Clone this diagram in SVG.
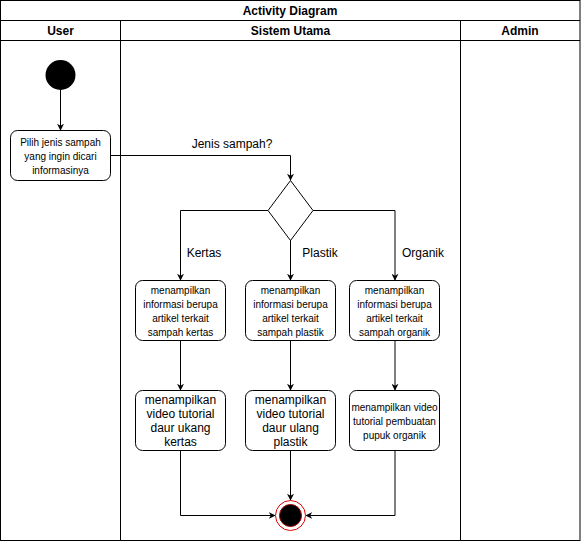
<svg xmlns="http://www.w3.org/2000/svg" width="581" height="541" viewBox="0 0 581 541">
<defs>
<style>
text{font-family:"Liberation Sans",Arial,sans-serif;fill:#000;text-anchor:middle}
.h{font-size:12px;font-weight:bold}
.s{font-size:10px}
.m{font-size:12px}
.box{fill:#fff;stroke:#000;stroke-width:1}
.ln{fill:none;stroke:#000;stroke-width:1}
.c{fill:none;stroke:#000;stroke-width:1;marker-end:url(#ar)}
</style>
<marker id="ar" viewBox="0 0 10 10" refX="9" refY="5" markerWidth="7" markerHeight="7" markerUnits="userSpaceOnUse" orient="auto">
<path d="M0,0 L10,5 L0,10 L3,5 Z" fill="#000"/>
</marker>
</defs>
<rect width="581" height="541" fill="#fff"/>
<g id="pool">
<rect class="ln" x="0.5" y="0.5" width="579.5" height="540"/>
<line class="ln" x1="0.5" y1="20.5" x2="580" y2="20.5"/>
<line class="ln" x1="0.5" y1="40.5" x2="580" y2="40.5"/>
<line class="ln" x1="120.5" y1="20.5" x2="120.5" y2="540.5"/>
<line class="ln" x1="460.5" y1="20.5" x2="460.5" y2="540.5"/>
<text class="h" x="290" y="15">Activity Diagram</text>
<text class="h" x="60.5" y="35">User</text>
<text class="h" x="290.5" y="35">Sistem Utama</text>
<text class="h" x="520" y="35">Admin</text>
</g>
<g id="connectors">
<line class="c" x1="60.5" y1="90" x2="60.5" y2="130"/>
<polyline class="c" points="110,155.5 290.5,155.5 290.5,180"/>
<polyline class="c" points="268,210.5 180.5,210.5 180.5,280"/>
<line class="c" x1="290.5" y1="240" x2="290.5" y2="280"/>
<polyline class="c" points="313,210.5 395,210.5 395,280"/>
<line class="c" x1="180.5" y1="340" x2="180.5" y2="390"/>
<line class="c" x1="290.5" y1="340" x2="290.5" y2="390"/>
<line class="c" x1="395" y1="340" x2="395" y2="390"/>
<polyline class="c" points="180.5,450 180.5,515.5 275,515.5"/>
<line class="c" x1="290.5" y1="450" x2="290.5" y2="500"/>
<polyline class="c" points="395,450 395,515.5 306,515.5"/>
<text class="m" x="232" y="148">Jenis sampah?</text>
<text class="m" x="204" y="257">Kertas</text>
<text class="m" x="320" y="257">Plastik</text>
<text class="m" x="423" y="257">Organik</text>
</g>
<g id="start">
<circle cx="60.5" cy="75" r="15" fill="#000"/>
</g>
<g id="pilih">
<rect class="box" x="10.5" y="130.5" width="100" height="50" rx="7"/>
<text class="s" x="60.5" y="146">Pilih jenis sampah</text>
<text class="s" x="60.5" y="160">yang ingin dicari</text>
<text class="s" x="60.5" y="174">informasinya</text>
</g>
<g id="decision">
<polygon points="290.5,180.5 313,210.5 290.5,240.5 268,210.5" fill="#fff" stroke="#000"/>
</g>
<g id="info-kertas">
<rect class="box" x="135.5" y="280.5" width="90" height="60" rx="7"/>
<text class="s" x="180.5" y="294">menampilkan</text>
<text class="s" x="180.5" y="308">informasi berupa</text>
<text class="s" x="180.5" y="322">artikel terkait</text>
<text class="s" x="180.5" y="336">sampah kertas</text>
</g>
<g id="info-plastik">
<rect class="box" x="245.5" y="280.5" width="90" height="60" rx="7"/>
<text class="s" x="290.5" y="294">menampilkan</text>
<text class="s" x="290.5" y="308">informasi berupa</text>
<text class="s" x="290.5" y="322">artikel terkait</text>
<text class="s" x="290.5" y="336">sampah plastik</text>
</g>
<g id="info-organik">
<rect class="box" x="349.5" y="280.5" width="90" height="60" rx="7"/>
<text class="s" x="394.5" y="294">menampilkan</text>
<text class="s" x="394.5" y="308">informasi berupa</text>
<text class="s" x="394.5" y="322">artikel terkait</text>
<text class="s" x="394.5" y="336">sampah organik</text>
</g>
<g id="video-kertas">
<rect class="box" x="135.5" y="390.5" width="90" height="60" rx="7"/>
<text class="m" x="180.5" y="404">menampilkan</text>
<text class="m" x="180.5" y="418">video tutorial</text>
<text class="m" x="180.5" y="432">daur ukang</text>
<text class="m" x="180.5" y="446">kertas</text>
</g>
<g id="video-plastik">
<rect class="box" x="245.5" y="390.5" width="90" height="60" rx="7"/>
<text class="m" x="290.5" y="404">menampilkan</text>
<text class="m" x="290.5" y="418">video tutorial</text>
<text class="m" x="290.5" y="432">daur ulang</text>
<text class="m" x="290.5" y="446">plastik</text>
</g>
<g id="video-organik">
<rect class="box" x="349.5" y="390.5" width="90" height="60" rx="7"/>
<text class="s" x="394.5" y="411">menampilkan video</text>
<text class="s" x="394.5" y="425">tutorial pembuatan</text>
<text class="s" x="394.5" y="439">pupuk organik</text>
</g>
<g id="end">
<circle cx="290.5" cy="515.5" r="15" fill="#fff" stroke="#e00000"/>
<circle cx="290.5" cy="515.5" r="11" fill="#000" stroke="#a00000"/>
</g>
</svg>
